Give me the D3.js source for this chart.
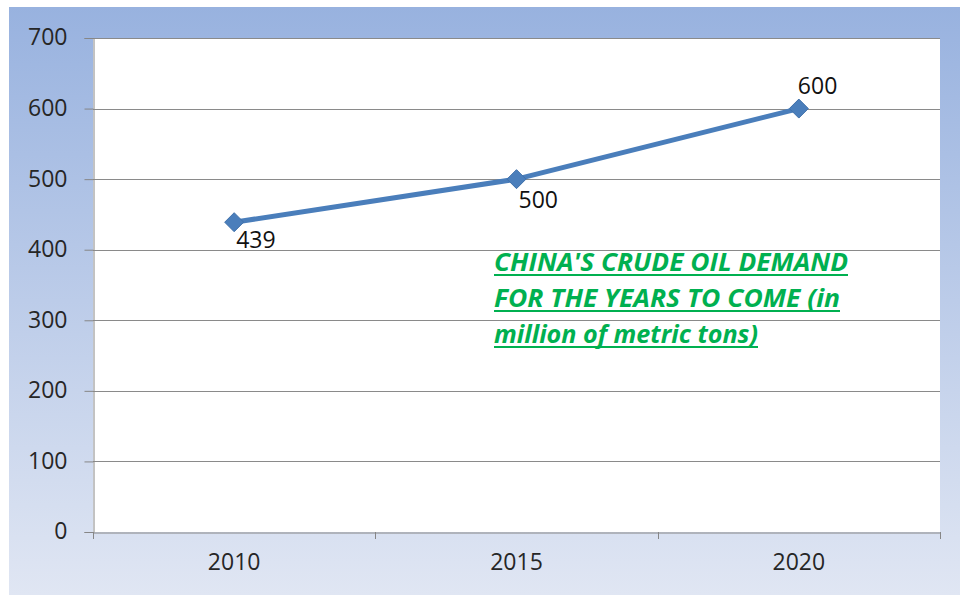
<!DOCTYPE html>
<html><head><meta charset="utf-8">
<script src="https://cdn.jsdelivr.net/npm/d3@7"></script>
<style>html,body{margin:0;padding:0;background:#fff;}svg{display:block;}</style>
</head><body>
<svg id="c" width="960" height="595"></svg>
<script>
const categories = ["2010", "2015", "2020"];
const demand = [439, 500, 600];
const yTicks = [0, 100, 200, 300, 400, 500, 600, 700];
const noteLines = ["CHINA'S CRUDE OIL DEMAND", "FOR THE YEARS TO COME (in", "million of metric tons)"];

const svg = d3.select("#c");
const W = 960, H = 595;
const m = {left: 93, right: 940, top: 38, bottom: 532};
const font = "'Open Sans', 'Noto Sans', sans-serif";
const fs = 23;

const defs = svg.append("defs");
const g = defs.append("linearGradient").attr("id", "bg").attr("x1", 0).attr("y1", 0).attr("x2", 0).attr("y2", 1);
g.append("stop").attr("offset", "0%").attr("stop-color", "#98b2df");
g.append("stop").attr("offset", "100%").attr("stop-color", "#e0e6f3");
svg.append("rect").attr("x", 9).attr("y", 7).attr("width", W - 9).attr("height", H - 7).attr("fill", "url(#bg)");

svg.append("rect").attr("x", m.left).attr("y", m.top).attr("width", m.right - m.left).attr("height", m.bottom - m.top).attr("fill", "#fff");

const x = d3.scaleBand().domain(categories).range([m.left, m.right]).padding(0);
const y = d3.scaleLinear().domain([0, 700]).range([m.bottom, m.top]);

// gridlines
svg.append("g").selectAll("line").data(yTicks.filter(d => d > 0)).join("line")
  .attr("x1", m.left).attr("x2", m.right)
  .attr("y1", d => Math.round(y(d)) + 0.5).attr("y2", d => Math.round(y(d)) + 0.5)
  .attr("stroke", "#8a8a8a").attr("stroke-width", 1);

// y axis
const yAxis = svg.append("g").attr("transform", `translate(${m.left + 0.5},0)`)
  .call(d3.axisLeft(y).tickValues(yTicks).tickSize(9).tickPadding(17));
yAxis.select(".domain").attr("stroke", "#868686");
yAxis.selectAll(".tick line").attr("stroke", "#868686");
yAxis.selectAll(".tick text").attr("font-family", font).attr("font-size", fs).attr("fill", "#262626").attr("dy", "0.3em");

// x axis
const xAxis = svg.append("g").attr("transform", `translate(0,${m.bottom + 0.5})`)
  .call(d3.axisBottom(x).tickSize(0).tickPadding(21));
xAxis.select(".domain").attr("stroke", "#868686");
xAxis.selectAll(".tick text").attr("font-family", font).attr("font-size", fs).attr("fill", "#262626").attr("dy", "0.71em");
// category boundary ticks
const bounds = categories.map(c => x(c)).concat([x(categories[categories.length - 1]) + x.bandwidth()]);
svg.append("g").selectAll("line").data(bounds).join("line")
  .attr("x1", d => Math.round(d) + 0.5).attr("x2", d => Math.round(d) + 0.5)
  .attr("y1", m.bottom).attr("y2", m.bottom + 7)
  .attr("stroke", "#868686");

const cx = d => x(d) + x.bandwidth() / 2;
const pts = categories.map((c, i) => [cx(c), y(demand[i])]);

svg.append("path").datum(pts).attr("d", d3.line())
  .attr("fill", "none").attr("stroke", "#4a7ebb").attr("stroke-width", 5).attr("stroke-linejoin", "round");

svg.append("g").selectAll("path").data(pts).join("path")
  .attr("d", d3.symbol().type(d3.symbolDiamond2).size(230))
  .attr("transform", d => `translate(${d[0]},${d[1]})`)
  .attr("fill", "#4a7ebb").attr("stroke", "#3f70aa").attr("stroke-width", 1);

const labelOffsets = [[2, 26], [2, 29], [-1, -15]];
svg.append("g").selectAll("text").data(pts).join("text")
  .attr("x", (d, i) => d[0] + labelOffsets[i][0])
  .attr("y", (d, i) => d[1] + labelOffsets[i][1])
  .attr("font-family", font).attr("font-size", fs).attr("fill", "#111")
  .text((d, i) => demand[i]);

// annotation
const noteX = 494, noteY = [271, 307, 343], noteW = [354, 346, 264];
const note = svg.append("g");
noteLines.forEach((t, i) => {
  note.append("text").attr("x", noteX).attr("y", noteY[i])
    .attr("font-family", font).attr("font-size", 25).attr("font-weight", "bold").attr("font-style", "italic")
    .attr("fill", "#00b050").attr("textLength", noteW[i]).attr("lengthAdjust", "spacingAndGlyphs").text(t);
  note.append("line").attr("x1", noteX).attr("x2", noteX + noteW[i])
    .attr("y1", noteY[i] + 4).attr("y2", noteY[i] + 4)
    .attr("stroke", "#00b050").attr("stroke-width", 2);
});
</script>
</body></html>
